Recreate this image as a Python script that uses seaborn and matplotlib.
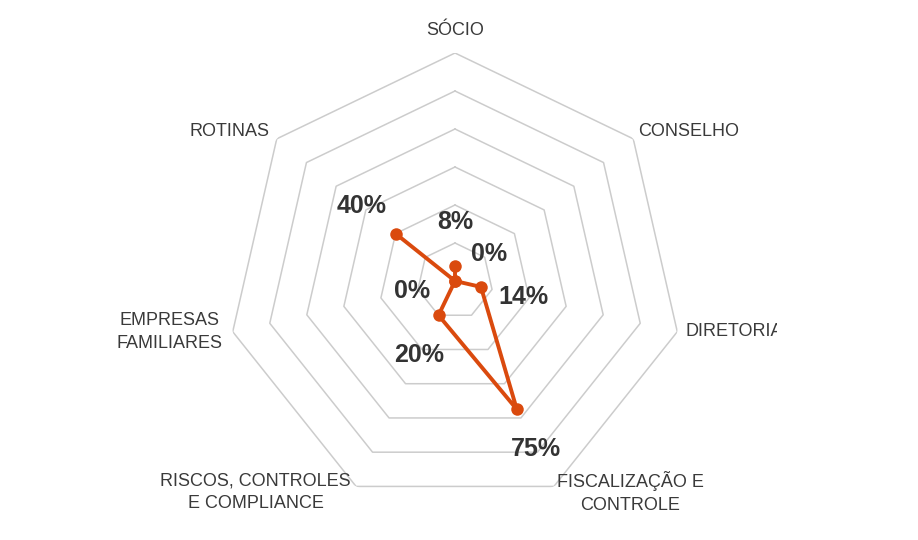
import numpy as np
import pandas as pd
import matplotlib
matplotlib.use("Agg")
import matplotlib.pyplot as plt
import seaborn as sns
from matplotlib.patches import Rectangle

categories = ["SÓCIO", "CONSELHO", "DIRETORIA", "FISCALIZAÇÃO E\nCONTROLE",
              "RISCOS, CONTROLES\nE COMPLIANCE", "EMPRESAS\nFAMILIARES", "ROTINAS"]
values = [8, 0, 14, 75, 20, 0, 40]
value_labels = ["8%", "0%", "14%", "75%", "20%", "0%", "40%"]
ring_levels = [20, 40, 60, 80, 100, 120]

sns.set_theme(style="white")
plt.rcParams['font.family'] = ['Liberation Sans', 'DejaVu Sans']

W, H = 918, 540
fig = plt.figure(figsize=(W / 100, H / 100), dpi=100)
cx, cy, R = 455, 281, 228
ax = fig.add_axes([(cx - R) / W, (H - cy - R) / H, 2 * R / W, 2 * R / H], projection='polar')
ax.set_theta_zero_location('N')
ax.set_theta_direction(-1)

n = len(categories)
theta = np.arange(n) * 2 * np.pi / n

# polygon grid
for lvl in ring_levels:
    ax.plot(np.append(theta, theta[0]), [lvl] * (n + 1), color='#cccccc', lw=1.1, zorder=1)

df = pd.DataFrame({'theta': np.append(theta, theta[0]),
                   'value': values + [values[0]],
                   'order': np.arange(n + 1)})
sns.lineplot(data=df, x='theta', y='value', sort=False, ax=ax, color='#DA4A0E',
             lw=2.8, marker='o', markersize=9, markeredgewidth=0, zorder=3)

ax.set_ylim(0, 120)
ax.set_xticks([])
ax.set_yticks([])
ax.grid(False)
ax.spines['polar'].set_visible(False)
ax.set_xlabel('')
ax.set_ylabel('')
ax.patch.set_alpha(0)

# value labels, offset radially
for t, v, lab in zip(theta, values, value_labels):
    off = 44
    ax.annotate(lab, xy=(t, v), xytext=(off * np.sin(t), off * np.cos(t)),
                textcoords='offset pixels', ha='center', va='center',
                fontsize=18, fontweight='bold', color='#333333', zorder=4)

# category labels
cat_style = [
    ('center', 'bottom', (0, 14)),
    ('left', 'center', (5, 7)),
    ('left', 'center', (8, 0)),
    ('left', 'center', (3, -6)),
    ('right', 'center', (-5, -6)),
    ('right', 'center', (-10, 0)),
    ('right', 'center', (-7, 7)),
]
for t, lab, (ha, va, off) in zip(theta, categories, cat_style):
    txt = ax.annotate(lab, xy=(t, 120), xytext=off, textcoords='offset pixels',
                      ha=ha, va=va, multialignment='center', fontsize=13,
                      color='#3a3a3a', linespacing=1.45, annotation_clip=False)
    txt.set_clip_path(Rectangle((0, 0), 777 / W, 1, transform=fig.transFigure))

fig.savefig('out.png', dpi=100)
